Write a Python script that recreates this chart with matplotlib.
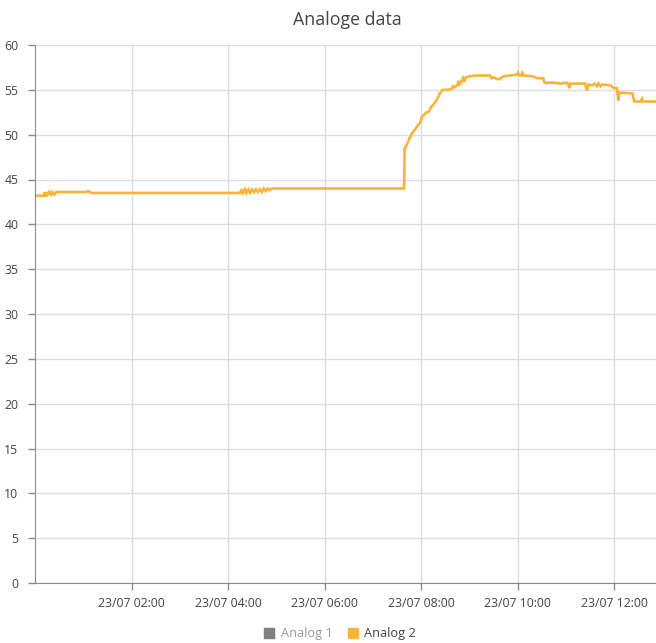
import matplotlib
matplotlib.use("Agg")
import matplotlib.pyplot as plt
import matplotlib.dates as mdates
from matplotlib.lines import Line2D
import pandas as pd

title = "Analoge data"
series_names = ["Analog 1", "Analog 2"]
start = "2023-07-23 00:00"

hours = [0.00, 0.19, 0.20, 0.22, 0.24, 0.26, 0.28, 0.30, 0.33, 0.36, 0.40, 0.44, 0.48, 0.52,
         1.05, 1.10, 1.14, 1.18, 1.22,
         4.25, 4.28, 4.31, 4.35, 4.38, 4.42, 4.46, 4.50, 4.54, 4.58, 4.62, 4.66, 4.70, 4.74,
         4.78, 4.82, 4.86, 4.91,
         7.65, 7.66, 7.70, 7.77, 7.82, 7.88, 7.94, 7.98, 8.02, 8.08, 8.12, 8.17, 8.21, 8.25,
         8.29, 8.34, 8.39, 8.43, 8.46, 8.55, 8.64, 8.66, 8.70, 8.75, 8.78, 8.80, 8.83, 8.87,
         8.90, 8.93, 8.95, 9.00, 9.16, 9.43, 9.46, 9.50, 9.58, 9.64, 9.70, 9.85, 9.99, 10.01,
         10.03, 10.08, 10.10, 10.13, 10.32, 10.40, 10.53, 10.56, 10.74, 10.90, 11.03, 11.08,
         11.10, 11.40, 11.44, 11.47, 11.55, 11.60, 11.65, 11.68, 11.72, 11.75, 11.92, 12.00,
         12.06, 12.09, 12.11, 12.38, 12.42, 12.55, 12.58, 12.60, 12.87]
analog2 = [43.2, 43.2, 43.6, 43.2, 43.2, 43.6, 43.3, 43.6, 43.3, 43.6, 43.3, 43.6, 43.6, 43.6,
           43.6, 43.7, 43.6, 43.5, 43.5,
           43.5, 43.9, 43.5, 43.9, 43.5, 43.9, 43.5, 43.9, 43.6, 43.9, 43.6, 43.9, 43.6, 44.0,
           43.7, 44.0, 43.8, 44.0,
           44.0, 48.5, 48.8, 49.7, 50.2, 50.6, 51.1, 51.3, 52.0, 52.3, 52.5, 52.6, 53.1, 53.3,
           53.6, 54.0, 54.6, 54.9, 55.0, 55.0, 55.1, 55.4, 55.3, 55.5, 56.0, 55.6, 55.8, 56.3,
           55.9, 56.4, 56.4, 56.5, 56.6, 56.6, 56.3, 56.4, 56.2, 56.2, 56.5, 56.6, 56.7, 56.9,
           56.6, 56.6, 56.9, 56.6, 56.5, 56.3, 56.3, 55.8, 55.8, 55.7, 55.8, 55.2,
           55.7, 55.7, 54.9, 55.6, 55.5, 55.7, 55.4, 55.7, 55.4, 55.6, 55.5, 55.2,
           55.2, 53.8, 54.7, 54.6, 53.7, 53.7, 54.0, 53.7, 53.7]
y_ticks = list(range(0, 61, 5))
x_tick_hours = [2, 4, 6, 8, 10, 12]

t0 = pd.Timestamp(start)
times = [t0 + pd.Timedelta(hours=h) for h in hours]
xticks = [t0 + pd.Timedelta(hours=h) for h in x_tick_hours]

orange = "#F9B33B"
grid_c = "#DEDEDE"
axis_c = "#8A8A8A"
text_c = "#444444"

plt.rcParams['font.family'] = ['Open Sans', 'DejaVu Sans']

fig = plt.figure(figsize=(6.56, 6.43), dpi=100)
ax = fig.add_axes([35/656, (643-583)/643, (656-35)/656, (583-45)/643])

ax.plot(times, analog2, color=orange, lw=1.9, solid_joinstyle='miter')

ax.set_ylim(0, 60)
ax.set_xlim(t0, t0 + pd.Timedelta(hours=12.87))
ax.set_yticks(y_ticks)
ax.set_xticks(xticks)
ax.xaxis.set_major_formatter(mdates.DateFormatter("23/07 %H:%M"))

ax.grid(True, color=grid_c, lw=1)
ax.set_axisbelow(True)
for s in ["top", "right"]:
    ax.spines[s].set_visible(False)
for s in ["left", "bottom"]:
    ax.spines[s].set_color(axis_c)
ax.tick_params(axis='both', colors=axis_c, labelcolor=text_c, labelsize=8.8, length=5, width=1)
ax.tick_params(axis='x', pad=5)
ax.tick_params(axis='y', pad=7)

fig.text(347/656, 1 - 20/643, title, ha='center', va='center', fontsize=12.8, color=text_c)

handles = [Line2D([], [], marker='s', ls='none', color='#808080', markersize=7),
           Line2D([], [], marker='s', ls='none', color=orange, markersize=7)]
leg = fig.legend(handles, series_names, loc='center', bbox_to_anchor=(340/656, 1 - 634/643),
                 ncol=2, frameon=False, fontsize=9.2, handletextpad=0.5, columnspacing=1.2,
                 handlelength=0.8)
leg.get_texts()[0].set_color('#999999')
leg.get_texts()[1].set_color(text_c)

fig.savefig("out.png", dpi=100)
